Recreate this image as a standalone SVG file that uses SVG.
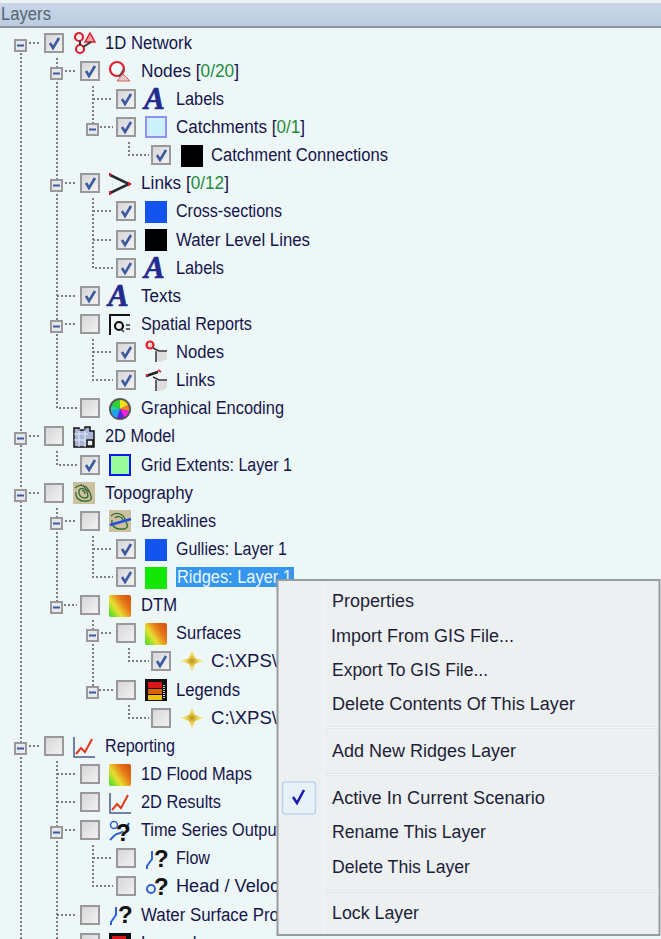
<svg xmlns="http://www.w3.org/2000/svg" width="661" height="939" viewBox="0 0 661 939">
<style>
text{font-family:"Liberation Sans",Arial,sans-serif;font-size:18px;fill:#15154a}
.g{fill:#1f8a3a}
.m{fill:#1e1e38}
.sel{fill:#eaf6ff}
.hd{fill:#566472}
.tree{fill:none;stroke:#7d7d7d;stroke-width:2;stroke-dasharray:2 2}
.box{fill:url(#cbg);stroke:#999;stroke-width:2}
.ck{fill:none;stroke:#3c5aa0;stroke-width:2.6}
.a{font-family:"Liberation Serif",serif;font-size:31px;font-weight:bold;font-style:italic;fill:#232c8e;stroke:#232c8e;stroke-width:.7}
.q{font-family:"Liberation Sans",sans-serif;font-size:24px;font-weight:bold;fill:#111}
.sep{fill:#f2f4f5;stroke:#e4e7e8;stroke-width:1}
</style>
<defs>
<linearGradient id="cbg" x1="0" y1="0" x2="1" y2="1"><stop offset="0" stop-color="#d4d4d8"/><stop offset="1" stop-color="#f4f4f4"/></linearGradient>
<linearGradient id="hdr" x1="0" y1="0" x2="0" y2="1"><stop offset="0" stop-color="#c8d6ea"/><stop offset="1" stop-color="#bccde0"/></linearGradient>
<linearGradient id="heat" x1="0" y1="1" x2="1" y2="0.3"><stop offset="0" stop-color="#33dd22"/><stop offset="0.4" stop-color="#e8e030"/><stop offset="0.75" stop-color="#e87818"/><stop offset="1" stop-color="#d85a10"/></linearGradient>
<radialGradient id="gold"><stop offset="0" stop-color="#b89018"/><stop offset="0.5" stop-color="#f0d860"/><stop offset="1" stop-color="#f8f0c0"/></radialGradient>
<g id="on"><rect class="box" x="1" y="1" width="18" height="18"/><path class="ck" d="M6 10l3 5 6-10"/></g>
<g id="off"><rect class="box" x="1" y="1" width="18" height="18"/></g>
<g id="exp"><rect x="1" y="1" width="11" height="11" fill="#e6e8ec" stroke="#999" stroke-width="2"/><path d="M3 6.500h7" stroke="#3c5aa0" stroke-width="2"/></g>
<g id="i-net"><circle cx="6" cy="5" r="4" fill="none" stroke="#e02030" stroke-width="2.200"/><circle cx="7" cy="17" r="4" fill="none" stroke="#e02030" stroke-width="2.200"/><path d="M17 1l5 9H12z" fill="#f0a0a0" stroke="#e02030" stroke-width="1.500"/><path d="M7 9v4M10 15l8-5" stroke="#333" stroke-width="2" fill="none"/></g>
<g id="i-node"><circle cx="8" cy="9" r="7" fill="#f0f8fa" stroke="#e02030" stroke-width="2.200"/><path d="M14 14l7 7H8z" fill="#e8c8c8" stroke="#d06060"/><path d="M10 17l5-9" stroke="#555" stroke-width="1.500"/></g>
<g id="i-a"><text class="a" x="0" y="21">A</text></g>
<g id="i-catch"><rect x="1" y="1" width="20" height="20" fill="#cdf2fb" stroke="#9090f0" stroke-width="2"/></g>
<g id="i-black"><rect width="22" height="22" fill="#000"/></g>
<g id="i-blue"><rect width="22" height="22" fill="#1155ee"/></g>
<g id="i-green"><rect width="22" height="22" fill="#13e805"/></g>
<g id="i-link"><path d="M1 2l19 9L1 20" fill="none" stroke="#2a2a2a" stroke-width="2.500"/><path d="M1 0v3M20 9v4M1 18v4" stroke="#e02030" stroke-width="2"/></g>
<g id="i-q"><path d="M1 21V1h20" fill="none" stroke="#111" stroke-width="2"/><circle cx="10" cy="12" r="4" fill="#eee" stroke="#111" stroke-width="2.200"/><path d="M12 15l3 3M17 11h4M17 15h4" stroke="#333" stroke-width="1.500"/></g>
<g id="i-rn"><circle cx="5" cy="5" r="3.500" fill="#ddd" stroke="#e02030" stroke-width="2.200"/><path d="M8 8l6 3h8M11 11v11" stroke="#333" stroke-width="1.500" fill="none"/><path d="M12 12h10v7l-6 3h-4z" fill="#ddd"/></g>
<g id="i-rl"><path d="M1 7l12-4" stroke="#222" stroke-width="2.500"/><path d="M1 6h2M13 1l3 2" stroke="#e02030" stroke-width="2"/><path d="M8 8l6 3h8M11 11v11" stroke="#333" stroke-width="1.500" fill="none"/><path d="M12 12h10v7l-6 3h-4z" fill="#ddd"/></g>
<g id="i-wheel"><circle cx="11" cy="11" r="11" fill="#555"/><path d="M11 11V2a9 9 0 0 1 8 5z" fill="#f0e020"/><path d="M11 11l8-4a9 9 0 0 1 1 6z" fill="#f08020"/><path d="M11 11l9 2a9 9 0 0 1-5 6z" fill="#f020e0"/><path d="M11 11l4 8a9 9 0 0 1-7 1z" fill="#6020e0"/><path d="M11 11l-3 9a9 9 0 0 1-6-7z" fill="#20a0f0"/><path d="M11 11L2 13a9 9 0 0 1 1-6z" fill="#20d0a0"/><path d="M11 11L3 7a9 9 0 0 1 8-5z" fill="#30d030"/></g>
<g id="i-2d"><path d="M1 21V2h5v2h6V1h5v4h4v16z" fill="#a8b4d8" stroke="#111" stroke-width="1.500"/><path d="M1 8h14M1 14h14M6 3v18M12 3v18" stroke="#e8ecf4"/><rect x="14" y="14" width="6" height="6" fill="#eee" stroke="#111" stroke-width="1.500"/></g>
<g id="i-topo"><rect width="22" height="22" fill="#ccc0a0"/><path d="M2 6c5-5 12-2 14 3s5 9-2 10S2 16 3 10M6 8c3-3 7-1 8 2s2 6-2 6-7-3-6-8M9 9c2-1 3 1 3 3" fill="none" stroke="#2c6a2a" stroke-width="1.300"/><path d="M8 2l10 10" stroke="#555"/></g>
<g id="i-break"><rect width="22" height="22" fill="#ccc0a0"/><path d="M2 6c5-5 12-2 14 3s5 9-2 10S2 16 3 10M6 8c3-3 7-1 8 2" fill="none" stroke="#2c6a2a" stroke-width="1.300"/><path d="M1 15l21-6" stroke="#2050e0" stroke-width="2.500"/></g>
<g id="i-heat"><rect x="0" y="0" width="22" height="22" rx="2" fill="url(#heat)"/></g>
<g id="i-gold"><path d="M12 0L15 8 24 11 15 14 12 22 9 14 0 11 9 8z" fill="url(#gold)"/></g>
<g id="i-leg"><rect width="22" height="22" fill="#111"/><rect x="3" y="3" width="14" height="6" fill="#d81818"/><rect x="3" y="10" width="14" height="5" fill="#e06008"/><rect x="3" y="16" width="14" height="5" fill="#f0c010"/><path d="M19 6v14" stroke="#ccc" stroke-width="2" stroke-dasharray="1 1"/></g>
<g id="i-chart"><path d="M1 1v20h21" fill="none" stroke="#4a5a8a" stroke-width="1.500"/><path d="M3 18l5-6 4 4 7-13" fill="none" stroke="#e03a1a" stroke-width="2"/></g>
<g id="i-ts"><circle cx="5" cy="5" r="3.500" fill="none" stroke="#3060d0" stroke-width="1.500"/><path d="M1 20l5-5c3-2 6-1 8-4M20 3l-3 6" fill="none" stroke="#3060d0" stroke-width="2"/><text class="q" x="7" y="21">?</text></g>
<g id="i-flow"><path d="M2 21v-3l5-7V3" fill="none" stroke="#2f60e0" stroke-width="2"/><text class="q" x="9" y="19">?</text></g>
<g id="i-head"><circle cx="6" cy="13" r="4" fill="none" stroke="#3060d0" stroke-width="2"/><text class="q" x="9" y="19">?</text></g>
</defs>

<rect width="661" height="939" fill="#eef7f8"/>
<g id="header">
<rect width="661" height="3" fill="#eef2f5"/>
<rect y="3" width="661" height="23" fill="url(#hdr)"/>
<rect y="26" width="661" height="2" fill="#8b979f"/>
<text class="hd" x="1" y="20" textLength="50" lengthAdjust="spacingAndGlyphs">Layers</text>
</g>

<g id="connectors">
<path class="tree" d="M21 45V939M21 43H41M21 436H41M21 493H41M21 746H41"/>
<path class="tree" d="M57 58V408H77M57 71H77M57 183H77M57 296H77M57 324H77"/>
<path class="tree" d="M57 451V465H77"/>
<path class="tree" d="M57 508V605H77M57 521H77"/>
<path class="tree" d="M57 761V939M57 774H77M57 802H77M57 830H77M57 915H77"/>
<path class="tree" d="M93 86V127H113M93 99H113"/>
<path class="tree" d="M93 198V268H113M93 211H113M93 240H113"/>
<path class="tree" d="M93 339V380H113M93 352H113"/>
<path class="tree" d="M93 536V577H113M93 549H113"/>
<path class="tree" d="M93 620V690H113M93 633H113"/>
<path class="tree" d="M93 845V886H113M93 858H113"/>
<path class="tree" d="M129 142V155H149"/>
<path class="tree" d="M129 648V661H149"/>
<path class="tree" d="M129 705V718H149"/>
<use href="#exp" x="14" y="39"/><use href="#exp" x="50" y="67"/><use href="#exp" x="86" y="123"/><use href="#exp" x="50" y="179"/><use href="#exp" x="50" y="320"/><use href="#exp" x="14" y="432"/><use href="#exp" x="14" y="489"/><use href="#exp" x="50" y="517"/><use href="#exp" x="50" y="601"/><use href="#exp" x="86" y="629"/><use href="#exp" x="86" y="686"/><use href="#exp" x="14" y="742"/><use href="#exp" x="50" y="826"/>
</g>

<g id="n-1d-network"><use href="#on" x="44" y="33"/><use href="#i-net" x="73" y="32"/><text x="105" y="49" textLength="87" lengthAdjust="spacingAndGlyphs">1D Network</text></g>
<g id="n-nodes"><use href="#on" x="80" y="61"/><use href="#i-node" x="109" y="60"/><text x="141" y="77" textLength="98" lengthAdjust="spacingAndGlyphs">Nodes [<tspan class="g">0/20</tspan>]</text></g>
<g id="n-node-labels"><use href="#on" x="116" y="89"/><use href="#i-a" x="144" y="88"/><text x="176" y="105" textLength="48" lengthAdjust="spacingAndGlyphs">Labels</text></g>
<g id="n-catchments"><use href="#on" x="116" y="117"/><use href="#i-catch" x="145" y="116"/><text x="176" y="133" textLength="129" lengthAdjust="spacingAndGlyphs">Catchments [<tspan class="g">0/1</tspan>]</text></g>
<g id="n-catchment-connections"><use href="#on" x="151" y="145"/><use href="#i-black" x="181" y="145"/><text x="211" y="161" textLength="177" lengthAdjust="spacingAndGlyphs">Catchment Connections</text></g>
<g id="n-links"><use href="#on" x="80" y="173"/><use href="#i-link" x="109" y="173"/><text x="141" y="189" textLength="88" lengthAdjust="spacingAndGlyphs">Links [<tspan class="g">0/12</tspan>]</text></g>
<g id="n-cross-sections"><use href="#on" x="116" y="201"/><use href="#i-blue" x="145" y="201"/><text x="176" y="217" textLength="106" lengthAdjust="spacingAndGlyphs">Cross-sections</text></g>
<g id="n-water-level-lines"><use href="#on" x="116" y="230"/><use href="#i-black" x="145" y="229"/><text x="176" y="246" textLength="134" lengthAdjust="spacingAndGlyphs">Water Level Lines</text></g>
<g id="n-link-labels"><use href="#on" x="116" y="258"/><use href="#i-a" x="144" y="257"/><text x="176" y="274" textLength="48" lengthAdjust="spacingAndGlyphs">Labels</text></g>
<g id="n-texts"><use href="#on" x="80" y="286"/><use href="#i-a" x="108" y="285"/><text x="141" y="302" textLength="40" lengthAdjust="spacingAndGlyphs">Texts</text></g>
<g id="n-spatial-reports"><use href="#off" x="80" y="314"/><use href="#i-q" x="109" y="314"/><text x="141" y="330" textLength="111" lengthAdjust="spacingAndGlyphs">Spatial Reports</text></g>
<g id="n-report-nodes"><use href="#on" x="116" y="342"/><use href="#i-rn" x="145" y="340"/><text x="176" y="358" textLength="48" lengthAdjust="spacingAndGlyphs">Nodes</text></g>
<g id="n-report-links"><use href="#on" x="116" y="370"/><use href="#i-rl" x="145" y="369"/><text x="176" y="386" textLength="39" lengthAdjust="spacingAndGlyphs">Links</text></g>
<g id="n-graphical-encoding"><use href="#off" x="80" y="398"/><use href="#i-wheel" x="109" y="398"/><text x="141" y="414" textLength="143" lengthAdjust="spacingAndGlyphs">Graphical Encoding</text></g>
<g id="n-2d-model"><use href="#off" x="44" y="426"/><use href="#i-2d" x="73" y="426"/><text x="105" y="442" textLength="70" lengthAdjust="spacingAndGlyphs">2D Model</text></g>
<g id="n-grid-extents"><use href="#on" x="80" y="455"/><rect x="110" y="455" width="20" height="20" fill="#99fb99" stroke="#0b1cf0" stroke-width="2"/><text x="141" y="471" textLength="151" lengthAdjust="spacingAndGlyphs">Grid Extents: Layer 1</text></g>
<g id="n-topography"><use href="#off" x="44" y="483"/><use href="#i-topo" x="73" y="482"/><text x="105" y="499" textLength="88" lengthAdjust="spacingAndGlyphs">Topography</text></g>
<g id="n-breaklines"><use href="#off" x="80" y="511"/><use href="#i-break" x="109" y="510"/><text x="141" y="527" textLength="75" lengthAdjust="spacingAndGlyphs">Breaklines</text></g>
<g id="n-gullies"><use href="#on" x="116" y="539"/><use href="#i-blue" x="145" y="539"/><text x="176" y="555" textLength="111" lengthAdjust="spacingAndGlyphs">Gullies: Layer 1</text></g>
<g id="n-ridges"><use href="#on" x="116" y="567"/><use href="#i-green" x="145" y="567"/><rect x="176" y="567" width="118" height="20" fill="#3596ee"/><text class="sel" x="177" y="583" textLength="115" lengthAdjust="spacingAndGlyphs">Ridges: Layer 1</text></g>
<g id="n-dtm"><use href="#off" x="80" y="595"/><use href="#i-heat" x="109" y="595"/><text x="141" y="611" textLength="36" lengthAdjust="spacingAndGlyphs">DTM</text></g>
<g id="n-surfaces"><use href="#off" x="116" y="623"/><use href="#i-heat" x="145" y="623"/><text x="176" y="639" textLength="65" lengthAdjust="spacingAndGlyphs">Surfaces</text></g>
<g id="n-surface-file"><use href="#on" x="151" y="651"/><use href="#i-gold" x="180" y="650"/><text x="211" y="667" textLength="66" lengthAdjust="spacingAndGlyphs">C:\XPS\</text></g>
<g id="n-legends"><use href="#off" x="116" y="680"/><use href="#i-leg" x="145" y="679"/><text x="176" y="696" textLength="64" lengthAdjust="spacingAndGlyphs">Legends</text></g>
<g id="n-legend-file"><use href="#off" x="151" y="708"/><use href="#i-gold" x="180" y="707"/><text x="211" y="724" textLength="66" lengthAdjust="spacingAndGlyphs">C:\XPS\</text></g>
<g id="n-reporting"><use href="#off" x="44" y="736"/><use href="#i-chart" x="73" y="736"/><text x="105" y="752" textLength="70" lengthAdjust="spacingAndGlyphs">Reporting</text></g>
<g id="n-1d-flood-maps"><use href="#off" x="80" y="764"/><use href="#i-heat" x="109" y="764"/><text x="141" y="780" textLength="111" lengthAdjust="spacingAndGlyphs">1D Flood Maps</text></g>
<g id="n-2d-results"><use href="#off" x="80" y="792"/><use href="#i-chart" x="109" y="792"/><text x="141" y="808" textLength="80" lengthAdjust="spacingAndGlyphs">2D Results</text></g>
<g id="n-time-series"><use href="#off" x="80" y="820"/><use href="#i-ts" x="109" y="820"/><text x="141" y="836" textLength="140" lengthAdjust="spacingAndGlyphs">Time Series Output</text></g>
<g id="n-flow"><use href="#off" x="116" y="848"/><use href="#i-flow" x="145" y="848"/><text x="176" y="864" textLength="34" lengthAdjust="spacingAndGlyphs">Flow</text></g>
<g id="n-head"><use href="#off" x="116" y="876"/><use href="#i-head" x="145" y="876"/><text x="176" y="892" textLength="103" lengthAdjust="spacingAndGlyphs">Head / Veloc</text></g>
<g id="n-water-surface"><use href="#off" x="80" y="905"/><use href="#i-flow" x="109" y="904"/><text x="141" y="921" textLength="138" lengthAdjust="spacingAndGlyphs">Water Surface Pro</text></g>
<g id="n-legends-2"><use href="#off" x="80" y="933"/><use href="#i-leg" x="109" y="933"/><text x="141" y="949" textLength="64" lengthAdjust="spacingAndGlyphs">Legends</text></g>

<g id="context-menu">
<rect x="277.500" y="580" width="382" height="355" fill="#ecf0f1" stroke="#979c9f" stroke-width="2"/>
<path d="M323.500 582V933" stroke="#f4f6f7" stroke-width="1"/>
<rect class="sep" x="326" y="726.500" width="332" height="2"/>
<rect class="sep" x="326" y="773.500" width="332" height="2"/>
<rect class="sep" x="326" y="890.500" width="332" height="2"/>
<rect x="282.500" y="782" width="33" height="32" rx="3" fill="#e9f1f8" stroke="#bcd3ee" stroke-width="1.500"/>
<path d="M293 797l4 6 7-13" fill="none" stroke="#1c1cb0" stroke-width="2.600"/>
<text class="m" x="332" y="607" textLength="82" lengthAdjust="spacingAndGlyphs">Properties</text>
<text class="m" x="331" y="642" textLength="183" lengthAdjust="spacingAndGlyphs">Import From GIS File...</text>
<text class="m" x="332" y="676" textLength="156" lengthAdjust="spacingAndGlyphs">Export To GIS File...</text>
<text class="m" x="332" y="710" textLength="243" lengthAdjust="spacingAndGlyphs">Delete Contents Of This Layer</text>
<text class="m" x="332" y="757" textLength="184" lengthAdjust="spacingAndGlyphs">Add New Ridges Layer</text>
<text class="m" x="332" y="804" textLength="213" lengthAdjust="spacingAndGlyphs">Active In Current Scenario</text>
<text class="m" x="332" y="838" textLength="154" lengthAdjust="spacingAndGlyphs">Rename This Layer</text>
<text class="m" x="332" y="873" textLength="138" lengthAdjust="spacingAndGlyphs">Delete This Layer</text>
<text class="m" x="332" y="919" textLength="87" lengthAdjust="spacingAndGlyphs">Lock Layer</text>
</g>
</svg>
